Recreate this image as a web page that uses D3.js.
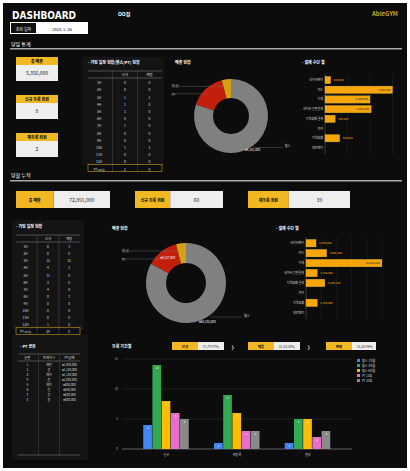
<!DOCTYPE html><html><head><meta charset="utf-8"><script src="https://cdn.jsdelivr.net/npm/d3@7"></script>
<style>body{margin:0;background:#fff}svg{display:block;font-family:"Noto Sans CJK KR","Noto Sans",sans-serif}</style></head><body>
<script>
const hours=["1H","2H","3H","4H","5H","6H","7H","8H","9H","10H","11H","12H","PT only"];
const dayNew=[0,0,1,1,1,0,1,0,0,1,0,0,2], dayRe=[0,0,1,0,0,0,0,0,0,1,0,0,0];
const monNew=[0,0,13,4,11,3,4,0,0,0,0,1,24], monRe=[1,0,13,1,0,0,0,1,0,0,0,0,0];
const payCats=["PT","회/신","헬스"];
const dayPay=[16,4,80], monPay=[13,4,83];
const methodCats=["네이버페이","카드","이체","네이버 간편결제","지역화폐 결제","카카","지역화폐","제로페이"];
const dayMethod=[250000,3000000,2000000,2050000,450000,0,650000,0];
const monMethod=[3300000,6800000,25000000,3700000,6200000,0,3700000,0];
const ptNames=["1","2","3","4","5","6","7","8"], ptTrainer=["제인","윤","제이","윤","제이","진","진","윤"], ptAmt=["₩1,000,000","₩1,100,000","₩1,100,000","₩1,000,000","₩800,000","₩800,000","₩800,000","₩800,000"];
const groups=["신규","재등록","연장"], seriesNames=["헬스 1개월","헬스 3개월","헬스 6개월","PT 10회","PT 20회"];
const seriesColors=["#4285f4","#34a853","#fbbc04","#e86fc9","#8a8a8a"];
const vals=[[4,14,8,6,5],[1,9,6,3,3],[1,5,5,2,3]];
const W=410,H=471,Y="#f2b824";
const svg=d3.select("body").append("svg").attr("width",W).attr("height",H);
svg.append("rect").attr("x",3).attr("y",3).attr("width",W-6).attr("height",H-6).attr("fill","#0c0c0c");
function t(x,y,s,sz,col,anc,w){return svg.append("text").attr("x",x).attr("y",y).text(s).attr("font-size",sz).attr("fill",col||"#fff").attr("text-anchor",anc||"start").attr("font-weight",w||"normal");}
t(12,19,"DASHBOARD",10,"#fff","start","bold").attr("font-family","DejaVu Sans Condensed");
t(118,16,"OO점",5,"#fff","start","bold");
t(372,16,"AbleGYM",6,"#c9a227","start","bold");
svg.append("rect").attr("x",10).attr("y",22).attr("width",78).attr("height",12).attr("fill","#fff");
svg.append("rect").attr("x",11).attr("y",23).attr("width",25).attr("height",10).attr("fill","#111");
t(23.5,30.5,"조회 일자",4,"#fff","middle");t(62,30.5,"2025. 1. 26",4,"#000","middle");
t(11,46,"당일 통계",5);svg.append("rect").attr("x",10).attr("y",48).attr("width",392).attr("height",1.5).attr("fill","#aaa");
t(11,177,"당월 누적",5);svg.append("rect").attr("x",10).attr("y",180).attr("width",392).attr("height",1.5).attr("fill","#aaa");
function card(x,y,w,lbl,val){svg.append("rect").attr("x",x).attr("y",y).attr("width",w).attr("height",8).attr("fill",Y);
 svg.append("rect").attr("x",x).attr("y",y+8).attr("width",w).attr("height",16).attr("fill","#eee");
 t(x+w/2,y+6,lbl,4,"#000","middle","bold");t(x+w/2,y+18,val,5,"#222","middle");}
card(16,57,42,"총 매출","5,356,000");card(16,95,42,"신규 등록 회원","8");card(16,133,42,"재등록 회원","2");
function hcard(x,y,w,lbl,val){svg.append("rect").attr("x",x).attr("y",y).attr("width",w*0.4).attr("height",17).attr("fill",Y);
 svg.append("rect").attr("x",x+w*0.4).attr("y",y).attr("width",w*0.6).attr("height",17).attr("fill","#eee");
 t(x+w*0.2,y+11,lbl,4,"#000","middle","bold");t(x+w*0.7,y+11,val,5,"#222","middle");}
hcard(16,191,94,"총 매출","72,091,000");hcard(135,191,88,"신규 등록 회원","60");hcard(248,191,102,"재등록 회원","39");
function panel(x,y,w,h){svg.append("rect").attr("x",x).attr("y",y).attr("width",w).attr("height",h).attr("fill","#141414");}
function table(x,y,w,title,cols,rows,colX,rh){t(x,y,title,4,"#fff","start","bold");
 const top=y+7;svg.append("line").attr("x1",x).attr("x2",x+w).attr("y1",top).attr("y2",top).attr("stroke","#888").attr("stroke-width",.5);
 cols.forEach((c,i)=>t(x+colX[i]*w,top+5,c,3.5,"#ddd","middle"));
 svg.append("line").attr("x1",x).attr("x2",x+w).attr("y1",top+7).attr("y2",top+7).attr("stroke","#888").attr("stroke-width",.5);
 rows.forEach((r,j)=>r.forEach((v,i)=>t(x+colX[i]*w,top+7+rh*(j+1)-1,v,3.3,"#ddd","middle")));
 [0.33,0.67].forEach(f=>svg.append("line").attr("x1",x+f*w).attr("x2",x+f*w).attr("y1",top).attr("y2",top+7+rh*rows.length).attr("stroke","#666").attr("stroke-width",.4));
 return top+7+rh*rows.length;}
panel(82,57,82,108);
let b=table(88,64,74,"- 가입 일정 현황(헬스/PT) 현황",["","신규","재등"],hours.map((h,i)=>[h,dayNew[i],dayRe[i]]),[0.15,0.5,0.83],7.2);
svg.append("rect").attr("x",88).attr("y",b-7.2).attr("width",74).attr("height",7.2).attr("fill","none").attr("stroke",Y).attr("stroke-width",.5);
panel(12,220,72,110);
b=table(16,228,64,"- 가입 일정 현황",["","신규","재등"],hours.map((h,i)=>[h,monNew[i],monRe[i]]),[0.15,0.5,0.83],7.1);
svg.append("rect").attr("x",16).attr("y",b-7.1).attr("width",64).attr("height",7.1).attr("fill","none").attr("stroke",Y).attr("stroke-width",.5);
panel(12,335,76,125);
t(20,348,"- PT 공유",4,"#fff","start","bold");
svg.append("line").attr("x1",18).attr("x2",80).attr("y1",354).attr("y2",354).attr("stroke","#888").attr("stroke-width",.5);
[["순번",0.15],["트레이너",0.5],["PT금액",0.83]].forEach(([c,f])=>t(18+f*62,359,c,3.3,"#ddd","middle"));
svg.append("line").attr("x1",18).attr("x2",80).attr("y1",361).attr("y2",361).attr("stroke","#888").attr("stroke-width",.5);
ptNames.forEach((n,j)=>{[n,ptTrainer[j],ptAmt[j]].forEach((v,i)=>t(18+[0.15,0.5,0.83][i]*62,366+j*5,v,3,"#ddd","middle"));});
[0.33,0.67].forEach(f=>svg.append("line").attr("x1",18+f*62).attr("x2",18+f*62).attr("y1",354).attr("y2",455).attr("stroke","#555").attr("stroke-width",.4));
svg.append("line").attr("x1",18).attr("x2",80).attr("y1",455).attr("y2",455).attr("stroke","#888").attr("stroke-width",.5);
const pcol=["#c21f0c","#d4a017","#808080"];
function donut(cx,cy,ro,ri,data,title,tx,ty,big){t(tx,ty,title,4,"#fff","start","bold");
 const off=2*Math.PI*(data[0]+data[1])/100;
 const pie=d3.pie().sort(null).startAngle(-off).endAngle(2*Math.PI-off);
 const arc=d3.arc().innerRadius(ri).outerRadius(ro);
 const ps=pie(data);
 const g=svg.append("g").attr("transform",`translate(${cx},${cy})`);
 g.selectAll("path").data(ps).join("path").attr("d",arc).attr("fill",(d,i)=>pcol[i]);
 const c=arc.centroid(ps[2]);g.append("text").attr("x",c[0]+ro*0.15).attr("y",c[1]+ro*0.35).text(big[1]).attr("font-size",3).attr("fill","#fff").attr("text-anchor","middle");
 if(big[0]){const c1=arc.centroid(ps[0]);g.append("text").attr("x",c1[0]).attr("y",c1[1]).text(big[0]).attr("font-size",3).attr("fill","#fff").attr("text-anchor","middle");}
 g.append("line").attr("x1",-ro*1.5).attr("x2",-ro*0.2).attr("y1",-ro*0.8).attr("y2",-ro*0.8).attr("stroke","#777").attr("stroke-width",.4);
 g.append("line").attr("x1",-ro*1.5).attr("x2",-ro*0.6).attr("y1",-ro*0.6).attr("y2",-ro*0.6).attr("stroke","#777").attr("stroke-width",.4);
 g.append("text").attr("x",-ro*1.6).attr("y",-ro*0.78).text(payCats[1]).attr("font-size",3).attr("fill","#ccc");
 g.append("text").attr("x",-ro*1.6).attr("y",-ro*0.55).text(payCats[0]).attr("font-size",3).attr("fill","#ccc");
 g.append("line").attr("x1",ro*0.6).attr("x2",ro*1.4).attr("y1",ro*0.85).attr("y2",ro*0.85).attr("stroke","#777").attr("stroke-width",.4);
 g.append("text").attr("x",ro*1.45).attr("y",ro*0.85).text(payCats[2]).attr("font-size",3).attr("fill","#ccc");}
donut(231,116,37,18,dayPay,"매출 현황",175,64,["","₩4,261,000"]);
donut(186,283,40,20,monPay,"매출 현황",112,230,["₩9,237,000","₩60,102,000"]);
function hbar(x0,y0,w,h,data,max,title,tx,ty){t(tx,ty,title,4,"#fff","start","bold");
 const x=d3.scaleLinear().domain([0,max]).range([x0,x0+w]);
 const y=d3.scaleBand().domain(methodCats).range([y0,y0+h]).padding(0.25);
 x.ticks(4).forEach(v=>svg.append("line").attr("x1",x(v)).attr("x2",x(v)).attr("y1",y0).attr("y2",y0+h).attr("stroke","#222").attr("stroke-width",.5));
 svg.append("line").attr("x1",x0).attr("x2",x0).attr("y1",y0).attr("y2",y0+h).attr("stroke","#555").attr("stroke-width",.5);
 methodCats.forEach((c,i)=>{t(x0-2,y(c)+y.bandwidth()/2+1,c,3,"#ccc","end");
  if(data[i]>0){svg.append("rect").attr("x",x0).attr("y",y(c)).attr("width",x(data[i])-x0).attr("height",y.bandwidth()).attr("fill","#f6a609").attr("stroke","#e0c060").attr("stroke-width",.3);
  const inside=x(data[i])-x0>w*0.6;t(inside?x(data[i])-2:x(data[i])+3,y(c)+y.bandwidth()/2+1,d3.format(",")(data[i]),2.8,inside?"#333":"#f6a609",inside?"end":"start");}});}
hbar(325,74,72,80,dayMethod,3200000,"- 결제 수단 별",302,64);
hbar(306,237,82,82,monMethod,27000000,"- 결제 수단 별",276,230);
t(112,348,"등록 기간별",4,"#fff","start","bold");
[[172,"신규","57 (79.97%)"],[248,"재등","32 (53.33%)"],[326,"연장","15 (38.46%)"]].forEach(([x,a,v],i)=>{
 svg.append("rect").attr("x",x).attr("y",342).attr("width",26).attr("height",8).attr("fill",Y);
 svg.append("rect").attr("x",x+26).attr("y",342).attr("width",i==2?24:26).attr("height",8).attr("fill","#eee");
 t(x+13,348,a,3.5,"#000","middle","bold");t(x+39,348,v,3,"#333","middle");
 if(i<2)t(x+62,349,"〉",5,"#fff","middle","bold");});
const x0=d3.scaleBand().domain(groups).range([122,352]).paddingInner(0.35).paddingOuter(0.3);
const x1=d3.scaleBand().domain(d3.range(5)).range([0,x0.bandwidth()]).padding(0);
const yb=d3.scaleLinear().domain([0,15]).range([449,359]);
[0,5,10,15].forEach(v=>{svg.append("line").attr("x1",122).attr("x2",352).attr("y1",yb(v)).attr("y2",yb(v)).attr("stroke",v?"#333":"#777").attr("stroke-width",v?.5:.8);
 t(118,yb(v)+1,v,3,"#aaa","end");});
groups.forEach((g,gi)=>{vals[gi].forEach((v,si)=>{const bx=x0(g)+x1(si);
 svg.append("rect").attr("x",bx).attr("y",yb(v)).attr("width",x1.bandwidth()-0.5).attr("height",449-yb(v)).attr("fill",seriesColors[si]);
 t(bx+x1.bandwidth()/2,yb(v)+4,v,2.8,"#fff","middle");});
 t(x0(g)+x0.bandwidth()/2,456,g,3,"#ccc","middle");});
seriesNames.forEach((n,i)=>{svg.append("rect").attr("x",357).attr("y",359+i*5).attr("width",3).attr("height",3).attr("fill",seriesColors[i]);t(362,362+i*5,n,3,"#ccc");});
</script></body></html>
